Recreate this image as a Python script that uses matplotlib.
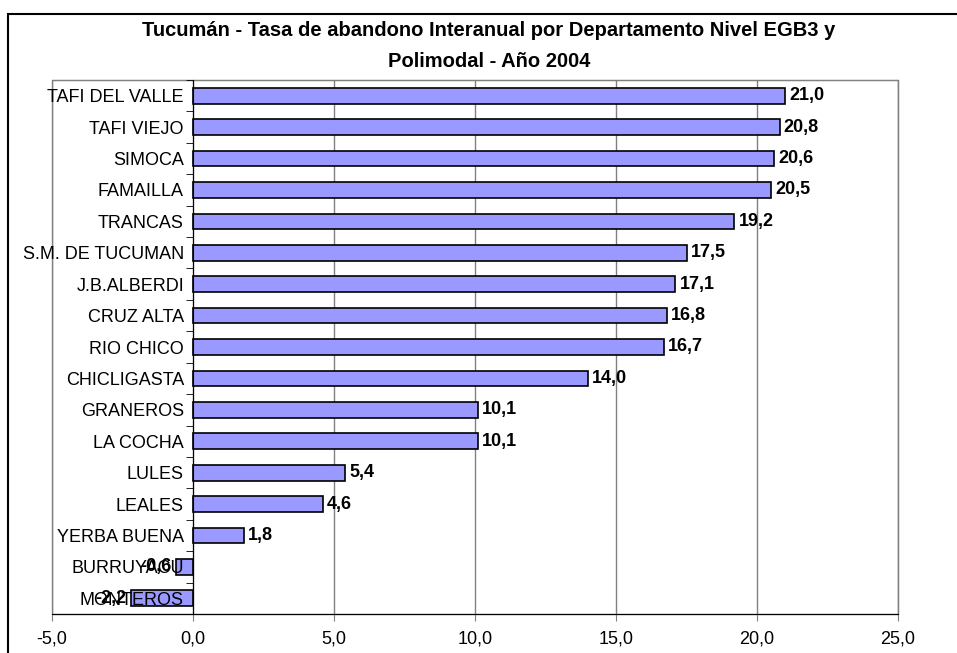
import numpy as np
import matplotlib
matplotlib.use('Agg')
import matplotlib.pyplot as plt
from matplotlib import ticker
from matplotlib.patches import Rectangle

#data:
departamentos = ['TAFI DEL VALLE', 'TAFI VIEJO', 'SIMOCA', 'FAMAILLA', 'TRANCAS',
                 'S.M. DE TUCUMAN', 'J.B.ALBERDI', 'CRUZ ALTA', 'RIO CHICO',
                 'CHICLIGASTA', 'GRANEROS', 'LA COCHA', 'LULES', 'LEALES',
                 'YERBA BUENA', 'BURRUYACU', 'MONTEROS']
tasas = [21.0, 20.8, 20.6, 20.5, 19.2, 17.5, 17.1, 16.8, 16.7,
         14.0, 10.1, 10.1, 5.4, 4.6, 1.8, -0.6, -2.2]
xTicks = [-5, 0, 5, 10, 15, 20, 25]
titulo = ('Tucumán - Tasa de abandono Interanual por Departamento Nivel EGB3 y\n'
          'Polimodal - Año 2004')

plt.rcParams['font.family'] = ['Liberation Sans', 'DejaVu Sans']

fig = plt.figure(figsize=(9.57, 6.53), dpi=100)
ax = fig.add_axes([52/957, 1-614/653, (898-52)/957, (614-80)/653])

_y = np.arange(len(departamentos))
ax.barh(_y, tasas, height=0.5, color='#9999FF', edgecolor='black',
        linewidth=1.2, zorder=3)

for y, v in zip(_y, tasas):
    txt = f'{v:.1f}'.replace('.', ',')
    if v >= 0:
        ax.text(v + 0.15, y, txt, ha='left', va='center', fontsize=13,
                fontweight='bold', zorder=5)
    else:
        ax.text(v - 0.15, y, txt, ha='right', va='center', fontsize=13,
                fontweight='bold', zorder=5)

ax.set_xlim(-5, 25)
ax.set_ylim(len(departamentos) - 0.5, -0.5)
ax.set_xticks(xTicks)
ax.xaxis.set_major_formatter(ticker.FuncFormatter(
    lambda x, p: f'{x:.1f}'.replace('.', ',')))
ax.tick_params(axis='x', labelsize=13, length=5, color='#808080', pad=7)
ax.grid(axis='x', color='#808080', linewidth=1, zorder=0)
ax.xaxis.set_zorder(0.5)

# y axis at x=0 with category labels, drawn over the bars like the original
ax.spines['left'].set_position(('data', 0))
ax.spines['left'].set_color('black')
ax.spines['left'].set_zorder(5)
ax.set_yticks(_y)
ax.set_yticklabels(departamentos)
ax.set_yticks(np.arange(len(departamentos) + 1) - 0.5, minor=True)
ax.tick_params(axis='y', which='major', length=0, labelsize=13, pad=6.5)
ax.tick_params(axis='y', which='minor', length=5, color='black')
ax.yaxis.set_zorder(4)

ax.spines['bottom'].set_color('black')
ax.spines['top'].set_color('#808080')
ax.spines['right'].set_color('#808080')
# grey plot area border on the left
ax.add_patch(Rectangle((0, 0), 1, 1, transform=ax.transAxes, fill=False,
                       edgecolor='#808080', linewidth=1, zorder=1,
                       clip_on=False))

fig.text(489/957, 1-46/653, titulo, ha='center', va='center',
         fontsize=14.5, fontweight='bold', linespacing=1.75)

# outer chart frame
fig.patches.append(Rectangle((8/957, -0.1), 1.2, 1.1 - 14/653,
                             transform=fig.transFigure, fill=False,
                             edgecolor='black', linewidth=1.5))

fig.savefig('out.png', dpi=100)
